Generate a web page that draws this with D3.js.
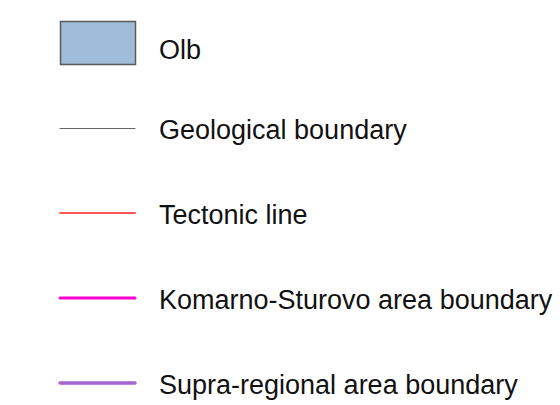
<!DOCTYPE html>
<html>
<head>
<meta charset="utf-8">
<script src="https://cdn.jsdelivr.net/npm/d3@7"></script>
<style>
  body { margin: 0; background: #fff; }
  text { font-family: "Liberation Sans", Arial, sans-serif; }
</style>
</head>
<body>
<div id="legend"></div>
<script>
// legend entries
const labels = ["Olb", "Geological boundary", "Tectonic line", "Komarno-Sturovo area boundary", "Supra-regional area boundary"];
const kinds = ["box", "line", "line", "line", "line"];
const colors = ["#a0bcd9", "#666666", "#ff5a5a", "#ff00cc", "#a466d0"];
const widths = [1.5, 1, 2, 3, 3.5];

const width = 560, height = 405;

const svg = d3.select("#legend").append("svg")
    .attr("width", width)
    .attr("height", height);

// vertical positions of the rows
const y = d3.scalePoint()
    .domain(labels)
    .range([43, 383]);

const row = svg.selectAll("g.row")
    .data(labels)
    .enter().append("g")
    .attr("class", "row")
    .attr("transform", d => `translate(0,${y(d)})`);

row.each(function (d, i) {
    const g = d3.select(this);
    if (kinds[i] === "box") {
        g.append("rect")
            .attr("x", 60.5)
            .attr("y", -21.5)
            .attr("width", 75)
            .attr("height", 43)
            .attr("fill", colors[i])
            .attr("stroke", "#5a5a5a")
            .attr("stroke-width", widths[i]);
    } else {
        // thin line on a half pixel so it stays crisp
        const off = widths[i] === 1 ? 0.5 : 0;
        g.append("line")
            .attr("x1", 60)
            .attr("x2", 135)
            .attr("y1", off)
            .attr("y2", off)
            .attr("stroke", colors[i])
            .attr("stroke-width", widths[i])
            .attr("stroke-linecap", "round");
    }
    g.append("text")
        .attr("x", 159)
        .attr("y", i === 0 ? 15.5 : 11)
        .attr("font-size", 27)
        .attr("fill", "#111")
        .text(d);
});
</script>
</body>
</html>
